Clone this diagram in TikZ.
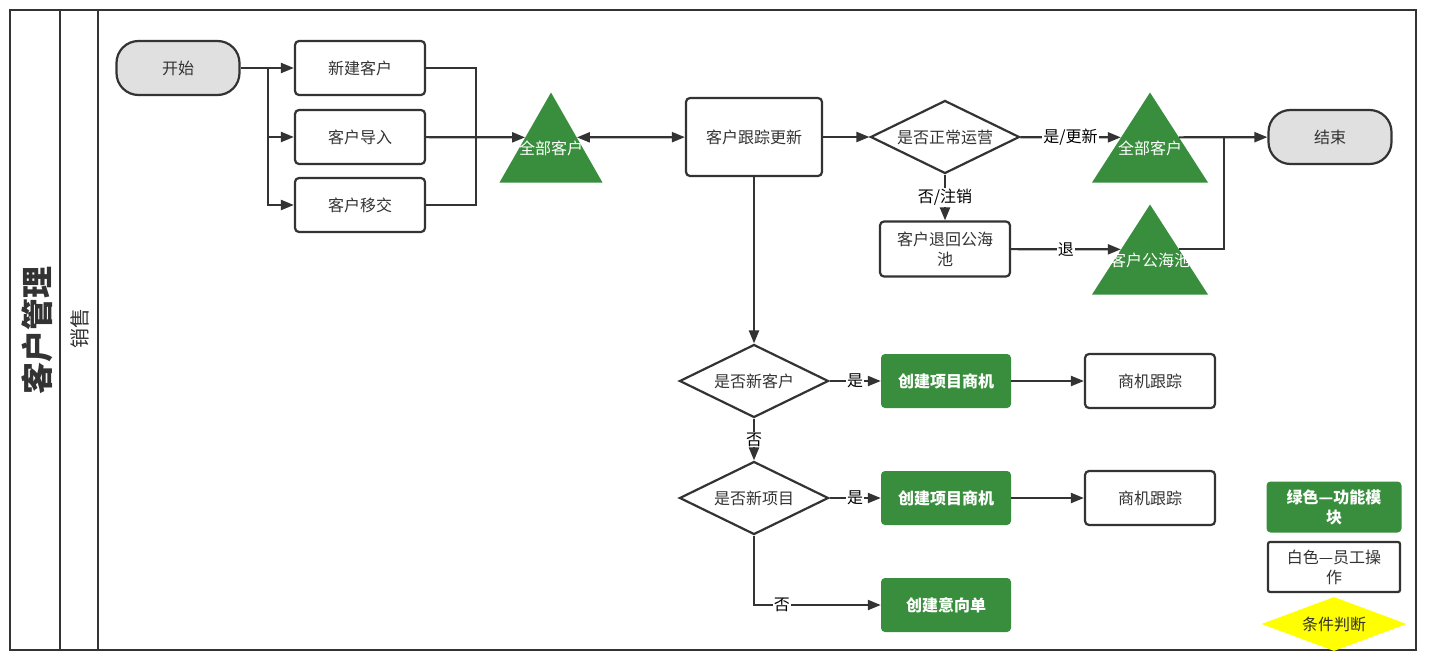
\documentclass[tikz,border=0pt]{standalone}
\usepackage{fontspec}
\setmainfont{Noto Sans CJK SC}
\usetikzlibrary{shapes.geometric,arrows.meta}
\definecolor{ink}{HTML}{333333}
\definecolor{modgreen}{HTML}{388E3C}
\definecolor{termgray}{HTML}{E0E0E0}
\definecolor{condyellow}{HTML}{FFFF00}
\begin{document}
\begin{tikzpicture}[x=1pt,y=-1pt,
    every node/.style={font=\fontsize{16}{20}\selectfont,text=ink,align=center},
    box/.style={draw=ink,line width=2.2pt,rounded corners=4pt,fill=white,minimum width=130pt,minimum height=54pt,inner sep=2pt},
    func/.style={fill=modgreen,rounded corners=4pt,minimum width=130pt,minimum height=54pt,text=white,font=\fontsize{16}{20}\selectfont\bfseries},
    term/.style={draw=ink,line width=2.2pt,fill=termgray,rounded corners=22pt,minimum width=123pt,minimum height=54pt},
    cond/.style={diamond,aspect=2,draw=ink,line width=2.2pt,minimum width=149pt,minimum height=73pt,inner sep=0pt},
    tri/.style={isosceles triangle,isosceles triangle stretches,shape border rotate=90,fill=modgreen,inner sep=0pt,anchor=apex},
    tritext/.style={text=white},
    lab/.style={fill=white,inner sep=1pt,text=black},
    link/.style={draw=ink,line width=2.2pt},
    flow/.style={link,-{Triangle[length=13pt,width=10pt]}},
    both/.style={link,{Triangle[length=13pt,width=10pt]}-{Triangle[length=13pt,width=10pt]}},
    lane/.style={draw=ink,line width=2.2pt}]
  \useasboundingbox (0,0) rectangle (1435,666);
  \draw[lane,line width=2.8pt] (10,10) rectangle (1416,650);
  \draw[lane] (60,10) -- (60,650);
  \draw[lane] (98,10) -- (98,650);
  \node[rotate=90,font=\fontsize{32}{32}\selectfont\bfseries] (dept) at (37,330) {客户管理};
  \node[rotate=90,font=\fontsize{20}{20}\selectfont] (role) at (80,328) {销售};

  \node[term] (start) at (178,68) {开始};
  \node[box] (create) at (360,68) {新建客户};
  \node[box] (import) at (360,137) {客户导入};
  \node[box] (handover) at (360,205) {客户移交};
  \node[tri,minimum width=103pt,minimum height=90pt] (all1) at (551,92) {};
  \node[tritext] (all1t) at (551,148) {全部客户};
  \node[box,minimum width=136pt,minimum height=78pt] (track) at (754,137) {客户跟踪更新};
  \node[cond] (normal) at (945,137) {是否正常运营};
  \node[tri,minimum width=116pt,minimum height=90pt] (all2) at (1150,92) {};
  \node[tritext] (all2t) at (1150,148) {全部客户};
  \node[term] (end) at (1330,137) {结束};
  \node[box,minimum height=55pt] (back) at (945,249) {客户退回公海\\池};
  \node[tri,minimum width=116pt,minimum height=90pt] (pool) at (1150,204) {};
  \node[tritext] (poolt) at (1150,260) {客户公海池};
  \node[cond] (newcust) at (754,381) {是否新客户};
  \node[func] (opp1) at (946,381) {创建项目商机};
  \node[box] (follow1) at (1150,381) {商机跟踪};
  \node[cond] (newproj) at (754,498) {是否新项目};
  \node[func] (opp2) at (946,498) {创建项目商机};
  \node[box] (follow2) at (1150,498) {商机跟踪};
  \node[func] (intent) at (946,605) {创建意向单};
  \node[func,minimum width=135pt,minimum height=51pt] (keyfunc) at (1334,507) {绿色—功能模\\块};
  \node[box,minimum width=132pt,minimum height=50pt,rounded corners=2pt] (keystaff) at (1334,567) {白色—员工操\\作};
  \node[diamond,aspect=2.7,fill=condyellow,minimum width=145pt,minimum height=54pt,inner sep=0pt] (keycond) at (1334,624) {条件判断};

  \coordinate (split) at (268,68);
  \coordinate (merge) at (476,137);
  \coordinate (join) at (1224,137);

  \begin{scope}[link]
    \draw (create) -| (merge);
    \draw (handover) -| (merge);
    \draw (pool.right side) -| (join);
  \end{scope}
  \begin{scope}[flow]
    \draw (start) -- (split) -- (create);
    \draw (split) |- (import);
    \draw (split) |- (handover);
    \draw (import) -- (all1.left side);
    \draw[both] (all1.right side) -- (track);
    \draw (track) -- (normal);
    \draw (normal) -- node[lab]{是/更新} (all2.left side);
    \draw (all2.right side) -- (end);
    \draw (normal) -- node[lab]{否/注销} (back);
    \draw (back) -- node[lab]{退} (pool.left side);
    \draw (track) -- (newcust);
    \draw (newcust) -- node[lab]{是} (opp1);
    \draw (opp1) -- (follow1);
    \draw (newcust) -- node[lab]{否} (newproj);
    \draw (newproj) -- node[lab]{是} (opp2);
    \draw (opp2) -- (follow2);
    \draw (newproj) |- node[lab,pos=0.61]{否} (intent);
  \end{scope}
\end{tikzpicture}
\end{document}
